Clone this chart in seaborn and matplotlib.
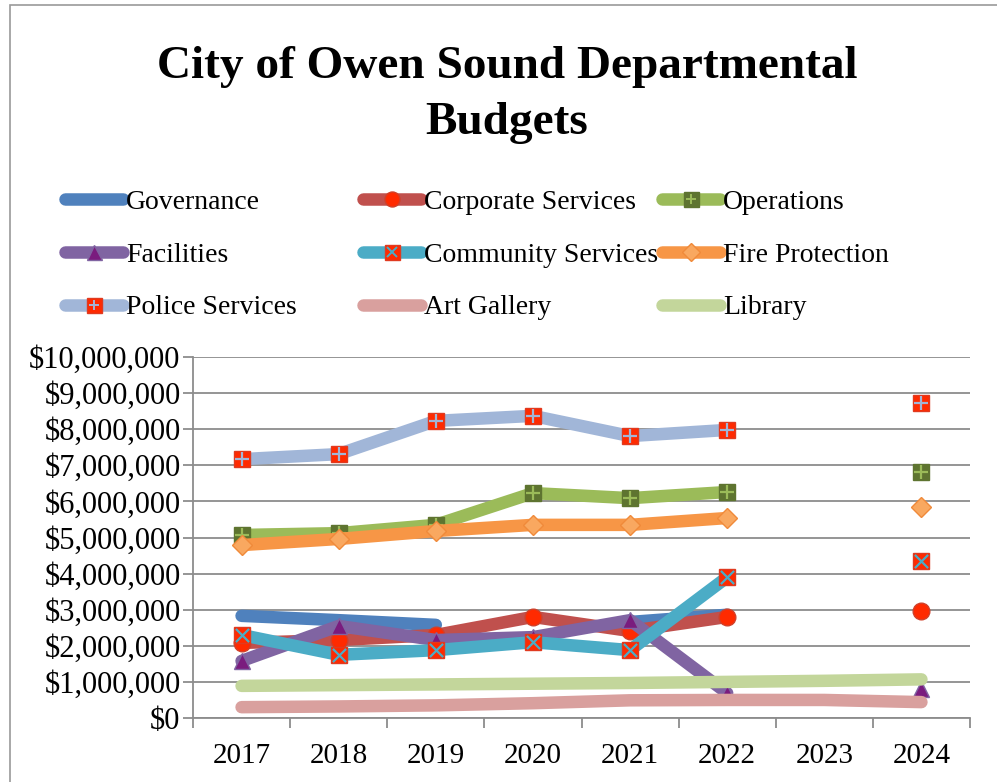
import numpy as np
import pandas as pd
import matplotlib
matplotlib.use("Agg")
import matplotlib.pyplot as plt
from matplotlib.lines import Line2D
from matplotlib.patches import Rectangle
from matplotlib.ticker import FuncFormatter, FixedLocator
from matplotlib.legend_handler import HandlerTuple
import seaborn as sns

nan = np.nan
years = ["2017", "2018", "2019", "2020", "2021", "2022", "2023", "2024"]

governance = [2.83e6, 2.71e6, 2.58e6, nan, 2.66e6, 2.86e6, nan, nan]
corporate = [2.08e6, 2.16e6, 2.30e6, 2.80e6, 2.41e6, 2.80e6, nan, 2.96e6]
operations = [5.07e6, 5.12e6, 5.35e6, 6.23e6, 6.09e6, 6.26e6, nan, 6.81e6]
facilities = [1.58e6, 2.55e6, 2.16e6, 2.24e6, 2.71e6, 0.69e6, nan, 0.80e6]
community = [2.30e6, 1.75e6, 1.88e6, 2.10e6, 1.88e6, 3.90e6, nan, 4.35e6]
fire = [4.79e6, 4.96e6, 5.18e6, 5.35e6, 5.35e6, 5.54e6, nan, 5.84e6]
police = [7.17e6, 7.31e6, 8.23e6, 8.37e6, 7.81e6, 7.98e6, nan, 8.73e6]
art_gallery = [0.30e6, 0.32e6, 0.35e6, 0.41e6, 0.49e6, 0.50e6, 0.50e6, 0.44e6]
library = [0.89e6, 0.91e6, 0.93e6, 0.95e6, 0.97e6, 1.00e6, 1.03e6, 1.07e6]

series_names = ["Governance", "Corporate Services", "Operations", "Facilities",
                "Community Services", "Fire Protection", "Police Services",
                "Art Gallery", "Library"]
series_values = [governance, corporate, operations, facilities, community,
                 fire, police, art_gallery, library]

RED = "#FF2A00"
styles = {
    "Governance": dict(color="#4F81BD", marker=None),
    "Corporate Services": dict(color="#C0504D", marker="o", mfc=RED, mec="#D0402A", ms=12),
    "Operations": dict(color="#9BBB59", marker="s", mfc="#5E7430", mec="#5E7430", ms=12,
                       inner="+", inner_color="#9BBB59"),
    "Facilities": dict(color="#8064A2", marker="^", mfc="#7A1C7E", mec="#8064A2", ms=12),
    "Community Services": dict(color="#4BACC6", marker="s", mfc=RED, mec="#E03A20", ms=12,
                               inner="x", inner_color="#4BACC6"),
    "Fire Protection": dict(color="#F79646", marker="D", mfc="#F9A860", mec="#F08A3A", ms=10),
    "Police Services": dict(color="#A1B6D8", marker="s", mfc=RED, mec="#E03A20", ms=12,
                            inner="+", inner_color="#A1B6D8"),
    "Art Gallery": dict(color="#D9A09E", marker=None),
    "Library": dict(color="#C3D69B", marker=None),
}

sns.set_theme(style="white")
plt.rcParams["font.family"] = ["Liberation Serif", "DejaVu Serif"]

fig = plt.figure(figsize=(9.97, 7.82), dpi=100)
ax = fig.add_axes([193 / 997, 1 - 718 / 782, (970 - 193) / 997, (718 - 357) / 782])

xpos = np.arange(len(years))
LW = 9

for i, (name, vals) in enumerate(zip(series_names, series_values)):
    st = styles[name]
    v = np.array(vals, dtype=float)
    valid = ~np.isnan(v)
    segs = []
    cur = []
    for k in range(len(v)):
        if valid[k]:
            cur.append(k)
        else:
            if cur:
                segs.append(cur)
            cur = []
    if cur:
        segs.append(cur)
    z = 3 + i
    for seg in segs:
        kw = dict(color=st["color"], linewidth=LW, solid_capstyle="round",
                  solid_joinstyle="round", zorder=z)
        if st["marker"]:
            kw.update(marker=st["marker"], markersize=st["ms"],
                      markerfacecolor=st["mfc"], markeredgecolor=st["mec"],
                      markeredgewidth=1.0)
        sns.lineplot(x=xpos[seg], y=v[seg], ax=ax, estimator=None, sort=False,
                     legend=False, **kw)
    if st.get("inner"):
        sns.scatterplot(x=xpos[valid], y=v[valid], ax=ax, marker=st["inner"],
                        s=90, color=st["inner_color"], linewidth=1.6,
                        zorder=z + 0.5, legend=False)

ax.set_xlim(-0.5, 7.5)
ax.set_ylim(0, 10e6)
ax.set_xticks(xpos)
ax.set_xticklabels(years)
ax.xaxis.set_minor_locator(FixedLocator(np.arange(-0.5, 8.0, 1.0)))
ax.set_yticks(np.arange(0, 10.5e6, 1e6))
ax.yaxis.set_major_formatter(FuncFormatter(lambda v, p: f"${v:,.0f}"))
ax.set_xlabel("")
ax.set_ylabel("")

GRID = "#8C8C8C"
ax.grid(axis="y", color=GRID, linewidth=1.3, zorder=0)
ax.grid(axis="x", visible=False)
ax.set_axisbelow(True)
for s in ["top", "right"]:
    ax.spines[s].set_visible(False)
for s in ["left", "bottom"]:
    ax.spines[s].set_visible(True)
    ax.spines[s].set_color(GRID)
    ax.spines[s].set_linewidth(1.3)

ax.tick_params(axis="y", which="major", left=True, length=7, width=1.3, color=GRID,
               labelsize=22, pad=2, labelcolor="black")
ax.tick_params(axis="x", which="major", bottom=False, length=0, labelsize=21, pad=18,
               labelcolor="black")
ax.tick_params(axis="x", which="minor", bottom=True, length=7, width=1.3, color=GRID)
ax.set_facecolor("white")

# Legend in three columns
handles = []
for name in series_names:
    st = styles[name]
    h = Line2D([0], [0], color=st["color"], linewidth=LW, solid_capstyle="round")
    if st["marker"]:
        h.set_marker(st["marker"])
        h.set_markersize(st["ms"] * 0.9)
        h.set_markerfacecolor(st["mfc"])
        h.set_markeredgecolor(st["mec"])
    if st.get("inner"):
        inner = Line2D([0], [0], linestyle="none", marker=st["inner"],
                       markersize=st["ms"] * 0.65, markeredgecolor=st["inner_color"],
                       markeredgewidth=1.4)
        handles.append((h, inner))
    else:
        handles.append(h)

col_x = [65 / 997, 363 / 997, 662 / 997]
for c in range(3):
    idx = [c, c + 3, c + 6]
    leg = fig.legend([handles[k] for k in idx], [series_names[k] for k in idx],
                     loc="center left", bbox_to_anchor=(col_x[c], 1 - 255 / 782),
                     frameon=False, fontsize=20, handlelength=2.1, handletextpad=0.1,
                     labelspacing=0.98, borderpad=0, borderaxespad=0,
                     markerfirst=True,
                     handler_map={tuple: HandlerTuple(ndivide=1, pad=0)})
    for t in leg.get_texts():
        t.set_color("black")

fig.text(507 / 997, 1 - 95 / 782, "City of Owen Sound Departmental\nBudgets",
         ha="center", va="center", fontsize=34, fontweight="bold",
         linespacing=1.45, color="black")

fig.add_artist(Rectangle((10 / 997, -0.1), 1.2, 1 - 5 / 782 + 0.1,
                         transform=fig.transFigure, fill=False,
                         edgecolor="#9A9A9A", linewidth=1.2))

fig.savefig("out.png", dpi=100, facecolor="white")
